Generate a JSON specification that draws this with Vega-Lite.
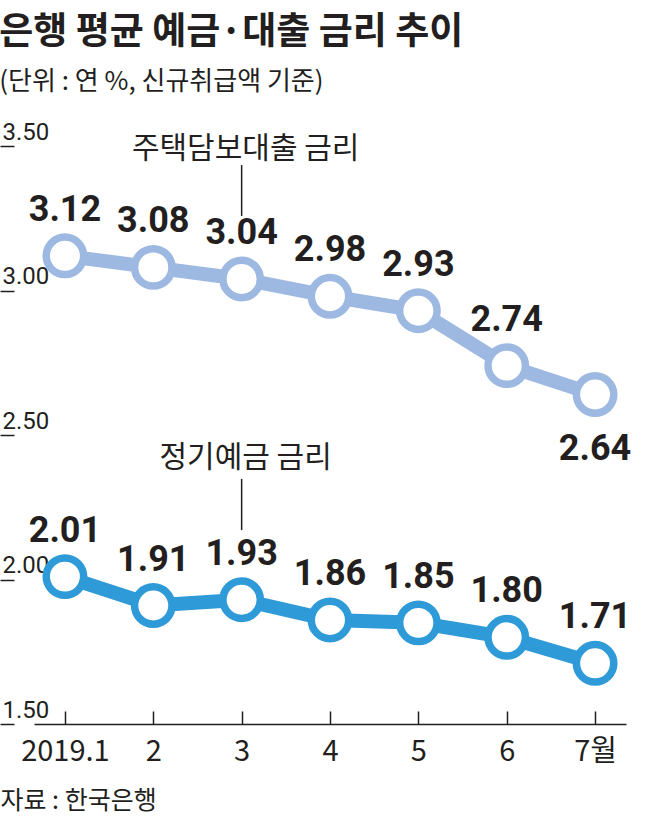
{
  "$schema": "https://vega.github.io/schema/vega-lite/v6.json",
  "autosize": {"type": "none"},
  "width": 592,
  "height": 578,
  "padding": {"left": 34, "top": 146, "right": 35, "bottom": 98},
  "background": "white",
  "title": {
    "text": "은행 평균 예금·대출 금리 추이",
    "subtitle": "(단위 : 연 %, 신규취급액 기준)",
    "anchor": "start",
    "frame": "bounds",
    "font": "Noto Sans CJK KR",
    "fontSize": 37,
    "fontWeight": "bold",
    "color": "#231f20",
    "subtitleFont": "Noto Sans CJK KR",
    "subtitleFontSize": 26,
    "subtitleColor": "#231f20",
    "subtitlePadding": 17,
    "offset": 24
  },
  "data": {
    "values": [
      {"month": "2019.1", "series": "주택담보대출", "rate": 3.12},
      {"month": "2", "series": "주택담보대출", "rate": 3.08},
      {"month": "3", "series": "주택담보대출", "rate": 3.04},
      {"month": "4", "series": "주택담보대출", "rate": 2.98},
      {"month": "5", "series": "주택담보대출", "rate": 2.93},
      {"month": "6", "series": "주택담보대출", "rate": 2.74},
      {"month": "7월", "series": "주택담보대출", "rate": 2.64},
      {"month": "2019.1", "series": "정기예금", "rate": 2.01},
      {"month": "2", "series": "정기예금", "rate": 1.91},
      {"month": "3", "series": "정기예금", "rate": 1.93},
      {"month": "4", "series": "정기예금", "rate": 1.86},
      {"month": "5", "series": "정기예금", "rate": 1.85},
      {"month": "6", "series": "정기예금", "rate": 1.80},
      {"month": "7월", "series": "정기예금", "rate": 1.71}
    ]
  },
  "encoding": {
    "x": {
      "field": "month",
      "type": "ordinal",
      "sort": ["2019.1", "2", "3", "4", "5", "6", "7월"],
      "scale": {"type": "point", "padding": 0.35},
      "axis": {
        "title": "자료 : 한국은행",
        "titleFont": "Noto Sans CJK KR",
        "titleFontSize": 25,
        "titleFontWeight": "normal",
        "titleColor": "#231f20",
        "titleAnchor": "start",
        "titleAlign": "left",
        "titleBaseline": "alphabetic",
        "titleX": -34,
        "titleY": 84,
        "domainColor": "#231f20",
        "domainWidth": 1.5,
        "tickColor": "#231f20",
        "tickWidth": 1.5,
        "tickSize": -13,
        "labelFont": "Liberation Sans Narrow, Noto Sans CJK KR",
        "labelFontSize": 29,
        "labelColor": "#231f20",
        "labelAngle": 0,
        "labelBaseline": "top",
        "labelPadding": 26
      }
    },
    "y": {
      "field": "rate",
      "type": "quantitative",
      "scale": {"domain": [1.5, 3.5], "nice": false, "zero": false},
      "axis": {
        "title": null,
        "values": [1.5, 2, 2.5, 3, 3.5],
        "format": ".2f",
        "grid": false,
        "domain": false,
        "offset": 20,
        "tickSize": 14,
        "tickColor": "#231f20",
        "tickWidth": 1.5,
        "labelFont": "Liberation Sans Narrow, Roboto, sans-serif",
        "labelFontSize": 24,
        "labelColor": "#231f20",
        "labelAlign": "left",
        "labelBaseline": "alphabetic",
        "labelPadding": -2,
        "labelOffset": -7
      }
    }
  },
  "layer": [
    {
      "mark": {"type": "line", "strokeWidth": 14},
      "encoding": {
        "color": {
          "field": "series",
          "type": "nominal",
          "scale": {"domain": ["주택담보대출", "정기예금"], "range": ["#9db9e2", "#2f9ad8"]},
          "legend": null
        }
      }
    },
    {
      "mark": {"type": "point", "filled": true, "fill": "white", "size": 1400, "strokeWidth": 7.5, "opacity": 1, "shape": "circle"},
      "encoding": {
        "stroke": {
          "field": "series",
          "type": "nominal",
          "scale": {"domain": ["주택담보대출", "정기예금"], "range": ["#9db9e2", "#2f9ad8"]},
          "legend": null
        }
      }
    },
    {
      "transform": [{"filter": "!(datum.series == '주택담보대출' && datum.month == '7월')"}],
      "mark": {"type": "text", "font": "Roboto", "fontSize": 36, "fontWeight": "bold", "color": "#231f20", "baseline": "alphabetic", "dy": -35},
      "encoding": {"text": {"field": "rate", "type": "quantitative", "format": ".2f"}}
    },
    {
      "transform": [{"filter": "datum.series == '주택담보대출' && datum.month == '7월'"}],
      "mark": {"type": "text", "font": "Roboto", "fontSize": 36, "fontWeight": "bold", "color": "#231f20", "baseline": "alphabetic", "dy": 65},
      "encoding": {"text": {"field": "rate", "type": "quantitative", "format": ".2f"}}
    },
    {
      "data": {"values": [{"month": "3", "label": "주택담보대출 금리", "ty": 3.458, "y1": 3.434, "y2": 3.258}, {"month": "3", "label": "정기예금 금리", "ty": 2.389, "y1": 2.348, "y2": 2.171}]},
      "layer": [
        {
          "mark": {"type": "text", "font": "Noto Sans CJK KR", "fontSize": 30, "color": "#231f20", "baseline": "alphabetic", "dx": 4},
          "encoding": {
            "y": {"field": "ty", "type": "quantitative"},
            "text": {"field": "label", "type": "nominal"}
          }
        },
        {
          "mark": {"type": "rule", "color": "#231f20", "strokeWidth": 1.5},
          "encoding": {
            "y": {"field": "y1", "type": "quantitative"},
            "y2": {"field": "y2"}
          }
        }
      ]
    }
  ],
  "config": {
    "view": {"stroke": null},
    "font": "Noto Sans CJK KR"
  }
}
